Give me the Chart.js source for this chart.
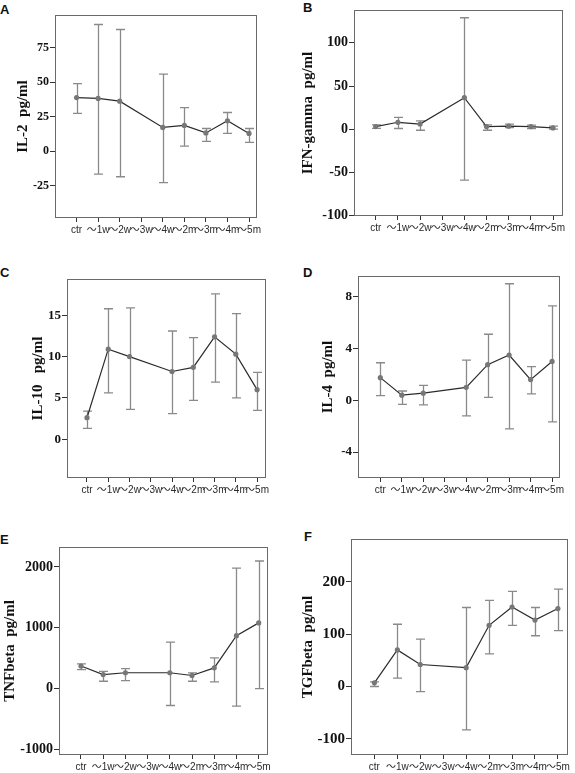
<!DOCTYPE html>
<html>
<head>
<meta charset="utf-8">
<script src="https://cdn.jsdelivr.net/npm/chart.js@4.4.1/dist/chart.umd.min.js"></script>
<style>
  html, body { margin: 0; padding: 0; background: #fff; }
  #fig { position: relative; width: 575px; height: 773px; overflow: hidden; background: #fff; }
  #fig canvas { position: absolute; }
  .tag { position: absolute; font: bold 13px "Liberation Sans", Arial, sans-serif; line-height: 13px; color: #111; }
</style>
</head>
<body>
<div id="fig">
  <div class="tag" style="left:0px;top:3px">A</div>
  <div class="tag" style="left:303px;top:1px">B</div>
  <div class="tag" style="left:0px;top:266px">C</div>
  <div class="tag" style="left:303px;top:266px">D</div>
  <div class="tag" style="left:0px;top:533px">E</div>
  <div class="tag" style="left:304px;top:530px">F</div>
</div>
<script>
// groups, ~3w has no samples
const categories = ['ctr', '～1w', '～2w', '～3w', '～4w', '～2m', '～3m', '～4m', '～5m'];

// A: IL-2
const il2Mean = [38.8, 38.2, 36.2, null, 17.2, 18.6, 13.2, 22, 12.8];
const il2Low = [27.3, -16.7, -18.6, null, -22.9, 3.6, 7, 12.8, 6.3];
const il2High = [49, 91.8, 88.2, null, 55.8, 31.6, 16.4, 28, 16.4];
const il2Ticks = [-25, 0, 25, 50, 75];

// B: IFN-gamma
const ifnMean = [3, 8, 6, null, 36.5, 3, 3.5, 3, 1.5];
const ifnLow = [1, 0.8, -1.2, null, -58.9, -1.2, 1.9, 0.8, 0];
const ifnHigh = [5, 13.6, 9.7, null, 129, 5, 5.8, 4.7, 3.5];
const ifnTicks = [-100, -50, 0, 50, 100];

// C: IL-10
const il10Mean = [2.6, 10.9, 10.0, null, 8.2, 8.7, 12.4, 10.3, 6.0];
const il10Low = [1.3, 5.6, 3.6, null, 3.1, 4.7, 6.9, 5.0, 3.5];
const il10High = [3.4, 15.8, 15.9, null, 13.1, 12.3, 17.6, 15.2, 8.1];
const il10Ticks = [0, 5, 10, 15];

// D: IL-4
const il4Mean = [1.75, 0.4, 0.55, null, 1.0, 2.75, 3.5, 1.6, 3.0];
const il4Low = [0.36, -0.31, -0.36, null, -1.2, 0.23, -2.2, 0.49, -1.67];
const il4High = [2.9, 0.72, 1.15, null, 3.1, 5.1, 9.0, 2.6, 7.3];
const il4Ticks = [-4, 0, 4, 8];

// E: TNFbeta
const tnfMean = [370, 230, 260, null, 260, 215, 340, 870, 1080];
const tnfLow = [311, 120, 131, null, -279, 120, 110, -290, 0];
const tnfHigh = [405, 284, 328, null, 765, 257, 503, 1979, 2098];
const tnfTicks = [-1000, 0, 1000, 2000];

// F: TGFbeta
const tgfMean = [7, 70, 42, null, 36, 117, 152, 127, 149];
const tgfLow = [0, 16, -10, null, -83, 62.5, 117, 97, 107];
const tgfHigh = [9, 119, 90.6, null, 151, 164.6, 182, 151, 186];
const tgfTicks = [-100, 0, 100, 200];

const serif = '"Liberation Serif", "Times New Roman", serif';
const sans = '"Liberation Sans", Arial, "Noto Sans CJK SC", sans-serif';

// box = plot frame [left, top, width, height] in page pixels
const panels = [
  { title: 'IL-2  pg/ml', mean: il2Mean, low: il2Low, high: il2High, ticks: il2Ticks,
    yMin: -48.5, yMax: 98.7, xMin: -1.0, xMax: 8.37, box: [55, 15, 202, 203], axisW: 45, tickSize: 12 },
  { title: 'IFN-gamma  pg/ml', mean: ifnMean, low: ifnLow, high: ifnHigh, ticks: ifnTicks,
    yMin: -100.5, yMax: 138, xMin: -0.98, xMax: 8.45, box: [354, 10, 209, 206], axisW: 59, tickSize: 14 },
  { title: 'IL-10   pg/ml', mean: il10Mean, low: il10Low, high: il10High, ticks: il10Ticks,
    yMin: -4.7, yMax: 19.4, xMin: -0.94, xMax: 8.42, box: [67, 279, 199, 199], axisW: 42, tickSize: 13 },
  { title: 'IL-4  pg/ml', mean: il4Mean, low: il4Low, high: il4High, ticks: il4Ticks,
    yMin: -6, yMax: 9.6, xMin: -1.04, xMax: 8.37, box: [358, 276, 202, 202], axisW: 43, tickSize: 13 },
  { title: 'TNFbeta  pg/ml', mean: tnfMean, low: tnfLow, high: tnfHigh, ticks: tnfTicks,
    yMin: -1093, yMax: 2328, xMin: -0.99, xMax: 8.42, box: [59, 547, 209, 208], axisW: 62, tickSize: 14 },
  { title: 'TGFbeta  pg/ml', mean: tgfMean, low: tgfLow, high: tgfHigh, ticks: tgfTicks,
    yMin: -131, yMax: 282, xMin: -1.02, xMax: 8.44, box: [351, 539, 217, 216], axisW: 56, tickSize: 15 }
];

const errorBars = {
  id: 'errorBars',
  beforeDatasetsDraw(chart) {
    const {ctx, chartArea: a, scales: {x, y}} = chart;
    const ds = chart.data.datasets[0];
    ctx.save();
    // frame
    ctx.strokeStyle = '#6a6a6a';
    ctx.lineWidth = 1;
    ctx.strokeRect(a.left + 0.5, a.top + 0.5, a.right - a.left - 1, a.bottom - a.top - 1);
    ctx.strokeStyle = '#8a8a8a';
    ctx.lineWidth = 1.3;
    ds.errLow.forEach((lo, i) => {
      if (lo === null) return;
      const px = Math.round(x.getPixelForValue(i)) + 0.5;
      const y1 = y.getPixelForValue(lo);
      const y2 = y.getPixelForValue(ds.errHigh[i]);
      ctx.beginPath();
      ctx.moveTo(px, y1); ctx.lineTo(px, y2);
      ctx.moveTo(px - 4.5, y1); ctx.lineTo(px + 4.5, y1);
      ctx.moveTo(px - 4.5, y2); ctx.lineTo(px + 4.5, y2);
      ctx.stroke();
    });
    ctx.restore();
  }
};

const fig = document.getElementById('fig');

function makePanel(p) {
  const canvas = document.createElement('canvas');
  fig.appendChild(canvas);
  const w0 = p.box[2] + p.axisW + 20, h0 = p.box[3] + 40;
  canvas.width = w0;
  canvas.height = h0;

  const chart = new Chart(canvas, {
    type: 'line',
    data: {
      datasets: [{
        data: categories.map((c, i) => ({x: i, y: p.mean[i]})),
        errLow: p.low,
        errHigh: p.high,
        borderColor: '#2b2b2b',
        borderWidth: 1.2,
        pointRadius: 2.6,
        pointBackgroundColor: '#777',
        pointBorderWidth: 0,
        tension: 0,
        spanGaps: true
      }]
    },
    options: {
      responsive: false,
      maintainAspectRatio: false,
      animation: false,
      devicePixelRatio: 1,
      layout: { padding: { top: 10, right: 14, left: 0, bottom: 0 } },
      plugins: { legend: { display: false }, tooltip: { enabled: false } },
      scales: {
        x: {
          type: 'linear',
          min: p.xMin,
          max: p.xMax,
          afterBuildTicks: s => { s.ticks = categories.map((c, i) => ({value: i})); },
          afterFit: s => { s.height = 28; },
          border: { display: false },
          grid: { drawOnChartArea: false, drawTicks: true, tickLength: 4, color: '#333' },
          ticks: {
            autoSkip: false, maxRotation: 0, minRotation: 0, padding: 2,
            color: '#2a2a2a', font: { family: sans, size: 10 },
            callback: v => categories[v] ?? ''
          }
        },
        y: {
          min: p.yMin,
          max: p.yMax,
          afterBuildTicks: s => { s.ticks = p.ticks.map(v => ({value: v})); },
          afterFit: s => { s.width = p.axisW; },
          border: { display: false },
          grid: { drawOnChartArea: false, drawTicks: true, tickLength: 5, color: '#333' },
          ticks: {
            padding: 1, color: '#111', font: { family: serif, size: p.tickSize, weight: 'bold' },
            callback: v => String(v)
          },
          title: {
            display: true, text: p.title, color: '#111',
            padding: { top: 4, bottom: 0 },
            font: { family: serif, size: 15, weight: 'bold' }
          }
        }
      }
    },
    plugins: [errorBars]
  });

  // fit chart area to the frame size, then place it
  let a = chart.chartArea;
  chart.resize(w0 + p.box[2] - (a.right - a.left), h0 + p.box[3] - (a.bottom - a.top));
  a = chart.chartArea;
  canvas.style.left = (p.box[0] - a.left) + 'px';
  canvas.style.top = (p.box[1] - a.top) + 'px';
}

panels.forEach(makePanel);
</script>
</body>
</html>
